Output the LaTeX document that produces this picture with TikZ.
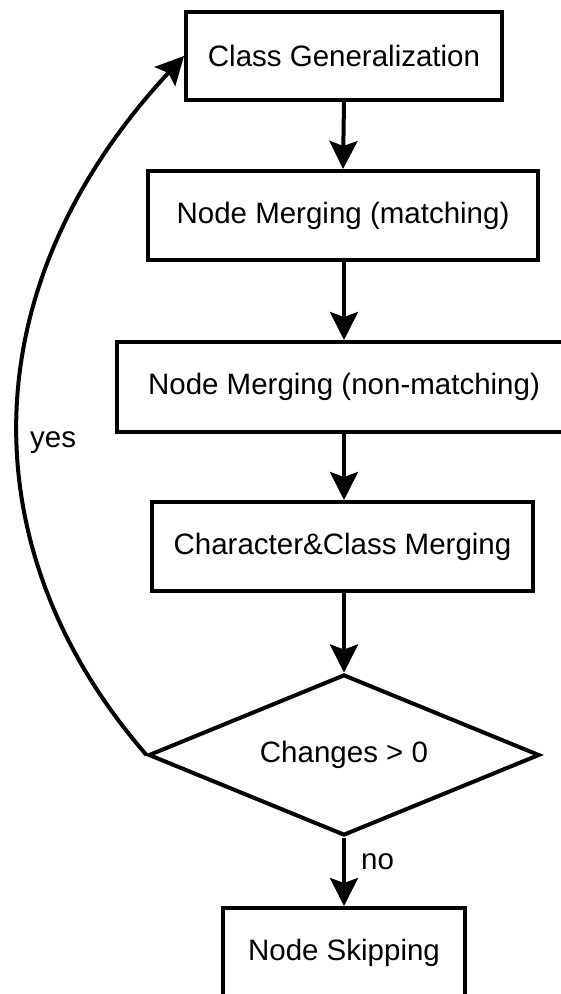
\documentclass[tikz,border=0pt]{standalone}
\usepackage{fontspec}
\setmainfont{Liberation Sans}
\usetikzlibrary{shapes.geometric,arrows.meta}
\begin{document}
\begin{tikzpicture}[x=1pt,y=-1pt,
  every node/.style={font=\fontsize{29.5}{35}\selectfont},
  procbox/.style={draw=black,line width=4pt,rectangle,inner sep=0pt,minimum height=89pt},
  decision/.style={draw=black,line width=4pt,diamond,inner sep=0pt,aspect=2.43,minimum width=391pt,minimum height=161pt},
  flow/.style={line width=4pt,-{Stealth[length=28pt,width=28pt,inset=5pt]}},
  lbl/.style={inner sep=0pt}]
\useasboundingbox (0,0) rectangle (561,994);
\clip (0,0) rectangle (561,994);
\node[procbox,minimum width=316pt,minimum height=88pt] (cg) at (344,56) {Class Generalization};
\node[procbox,minimum width=390pt] (nm1) at (343,215.5) {Node Merging (matching)};
\node[procbox,minimum width=454pt,minimum height=90pt] (nm2) at (344,387) {Node Merging (non-matching)};
\node[procbox,minimum width=381pt] (ccm) at (342.5,546.5) {Character\&Class Merging};
\node[decision] (dec) at (344,755) {Changes > 0};
\node[procbox,minimum width=242pt,minimum height=90pt] (ns) at (344,953) {Node Skipping};
\draw[flow] (cg.south) -- (nm1.north);
\draw[flow] (nm1.south -| nm2.north) -- (nm2.north);
\draw[flow] (nm2.south) -- (ccm.north -| nm2.south);
\draw[flow] (ccm.south -| dec.north) -- (dec.north);
\draw[flow] (dec.south) -- (ns.north);
\draw[flow] (dec.west) .. controls (-27,556) and (-35,292) .. (cg.west);
\node[lbl,anchor=west] (yes) at (30,443) {yes};
\node[lbl,anchor=west] (no) at (361,862) {no};
\end{tikzpicture}
\end{document}
